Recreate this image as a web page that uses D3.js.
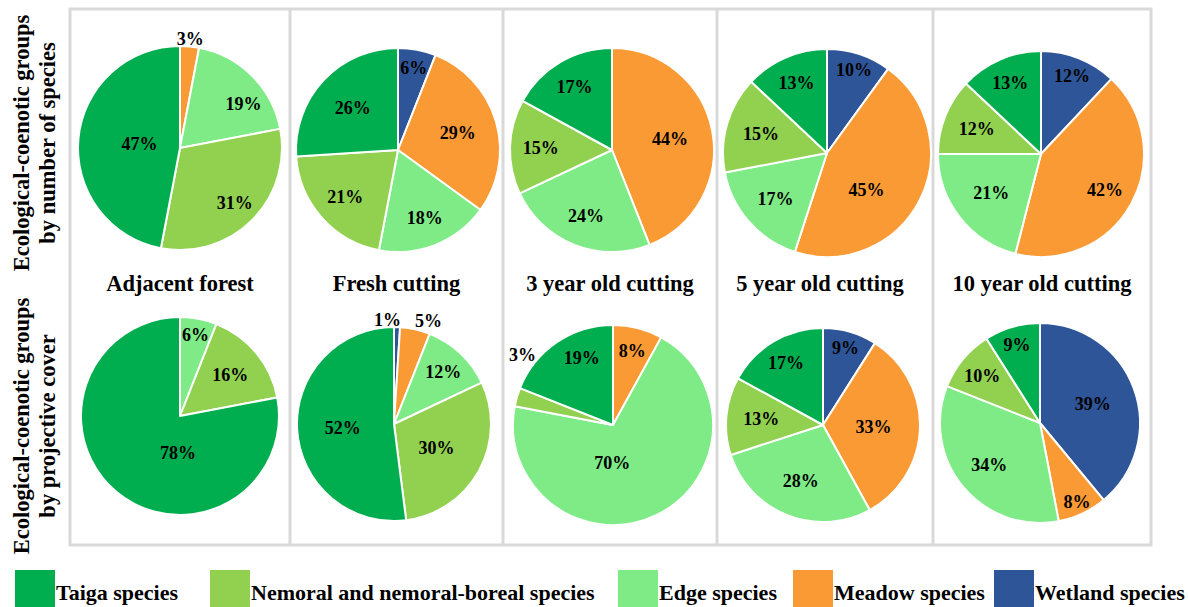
<!DOCTYPE html>
<html>
<head>
<meta charset="utf-8">
<script src="https://cdn.jsdelivr.net/npm/d3@7"></script>
<style>
  html, body { margin: 0; padding: 0; background: #fff; }
  svg text { font-family: "Liberation Serif", "Times New Roman", serif; font-weight: bold; fill: #000; }
</style>
</head>
<body>
<svg id="chart" width="1188" height="607"></svg>
<script>
// ---------- DATA ----------
const groups = ["Wetland species", "Meadow species", "Edge species", "Nemoral and nemoral-boreal species", "Taiga species"];
const sites = ["Adjacent forest", "Fresh cutting", "3 year old cutting", "5 year old cutting", "10 year old cutting"];
const rowTitles = [["Ecological-coenotic groups", "by number of species"], ["Ecological-coenotic groups", "by projective cover"]];
// values in order: Wetland, Meadow, Edge, Nemoral, Taiga (clockwise from 12 o'clock)
const byNumber = [
  [0, 3, 19, 31, 47],
  [6, 29, 18, 21, 26],
  [0, 44, 24, 15, 17],
  [10, 45, 17, 15, 13],
  [12, 42, 21, 12, 13]
];
const byCover = [
  [0, 0, 6, 16, 78],
  [1, 5, 12, 30, 52],
  [0, 8, 70, 3, 19],
  [9, 33, 28, 13, 17],
  [39, 8, 34, 10, 9]
];
const legendOrder = ["Taiga species", "Nemoral and nemoral-boreal species", "Edge species", "Meadow species", "Wetland species"];

// ---------- STYLE / LAYOUT ----------
const colors = {
  "Wetland species": "#2e5597",
  "Meadow species": "#fa9a35",
  "Edge species": "#7eeb86",
  "Nemoral and nemoral-boreal species": "#92d050",
  "Taiga species": "#00ad4f"
};
const panelEdges = [70, 290, 503, 717, 933, 1151];
const frameTop = 9, frameBottom = 545;
const rowLayout = [
  { cy: [148, 150, 150, 153, 154], r: [102, 102, 102, 104, 103] },
  { cy: [416, 424, 425, 425, 423], r: [99, 97, 100, 97, 100] }
];
const pieCx = [[180, 398, 612, 827, 1041], [180, 394, 613, 823, 1040]];
// label radius factor per slice, optional label angle override (degrees clockwise from top)
const labelR = [
  [[0, 1.08, 0.76, 0.76, 0.40], [0.82, 0.61, 0.71, 0.69, 0.61], [0, 0.58, 0.69, 0.70, 0.72], [0.84, 0.52, 0.66, 0.66, 0.74], [0.82, 0.71, 0.61, 0.67, 0.75]],
  [[0, 0, 0.84, 0.66, 0.37], [1.08, 1.12, 0.74, 0.50, 0.53], [0, 0.77, 0.38, 1.15, 0.74], [0.83, 0.52, 0.62, 0.64, 0.75], [0.56, 0.87, 0.66, 0.75, 0.82]]
];
const labelA = [
  [[null, null, 55, null, null], [null, null, null, null, null], [null, null, null, null, null], [null, 133, null, null, null], [null, null, null, null, null]],
  [[null, null, null, null, 183], [-3.5, 18.5, null, null, null], [null, null, 181, 308, 335], [null, null, null, null, null], [null, null, null, null, null]]
];
const legendX = [15, 210, 618, 793, 994];

// ---------- DRAW ----------
const svg = d3.select("#chart");

// panel frames
const frame = svg.append("g");
frame.append("rect")
  .attr("x", panelEdges[0]).attr("y", frameTop)
  .attr("width", panelEdges[5] - panelEdges[0]).attr("height", frameBottom - frameTop)
  .attr("fill", "none").attr("stroke", "#d9d9d9").attr("stroke-width", 3);
panelEdges.slice(1, 5).forEach(x => {
  frame.append("line").attr("x1", x).attr("x2", x).attr("y1", frameTop).attr("y2", frameBottom)
    .attr("stroke", "#d9d9d9").attr("stroke-width", 3);
});

const pie = d3.pie().sort(null).value(d => d.v);
const rows = [byNumber, byCover];

rows.forEach((rowData, ri) => {
  rowData.forEach((vals, si) => {
    const cx = pieCx[ri][si], cy = rowLayout[ri].cy[si], r = rowLayout[ri].r[si];
    const arcs = pie(vals.map((v, i) => ({ v, g: groups[i], i })));
    const arc = d3.arc().innerRadius(0).outerRadius(r);
    const g = svg.append("g").attr("transform", `translate(${cx},${cy})`);
    g.selectAll("path").data(arcs.filter(a => a.data.v > 0)).join("path")
      .attr("d", arc)
      .attr("fill", d => colors[d.data.g])
      .attr("stroke", "#fff").attr("stroke-width", 2).attr("stroke-linejoin", "round");
    g.selectAll("text").data(arcs.filter(a => a.data.v > 0)).join("text")
      .attr("transform", d => {
        const ov = labelA[ri][si][d.data.i];
        const ang = ov != null ? ov * Math.PI / 180 : (d.startAngle + d.endAngle) / 2;
        const rr = labelR[ri][si][d.data.i] * r;
        return `translate(${rr * Math.sin(ang)},${-rr * Math.cos(ang)})`;
      })
      .attr("text-anchor", "middle").attr("dy", "0.35em")
      .style("font-size", "18px")
      .text(d => d.data.v + "%");
  });
});

// site titles
sites.forEach((s, si) => {
  svg.append("text")
    .attr("x", (panelEdges[si] + panelEdges[si + 1]) / 2 + (si === 3 ? -5 : 0))
    .attr("y", 291)
    .attr("text-anchor", "middle")
    .style("font-size", "22.5px")
    .text(s);
});

// row titles (rotated)
const rowCenters = [143, 426];
rowTitles.forEach((lines, ri) => {
  const t = svg.append("text")
    .attr("transform", `translate(0,${rowCenters[ri]}) rotate(-90)`)
    .attr("text-anchor", "middle")
    .style("font-size", "22.5px");
  lines.forEach((ln, li) => {
    t.append("tspan").attr("x", 0).attr("y", li === 0 ? 29 : 55).text(ln);
  });
});

// legend
legendOrder.forEach((name, i) => {
  const x = legendX[i];
  svg.append("rect").attr("x", x).attr("y", 570).attr("width", 40).attr("height", 37)
    .attr("fill", colors[name]);
  svg.append("text").attr("x", x + 41).attr("y", 600)
    .style("font-size", "22px")
    .text(name);
});
</script>
</body>
</html>
